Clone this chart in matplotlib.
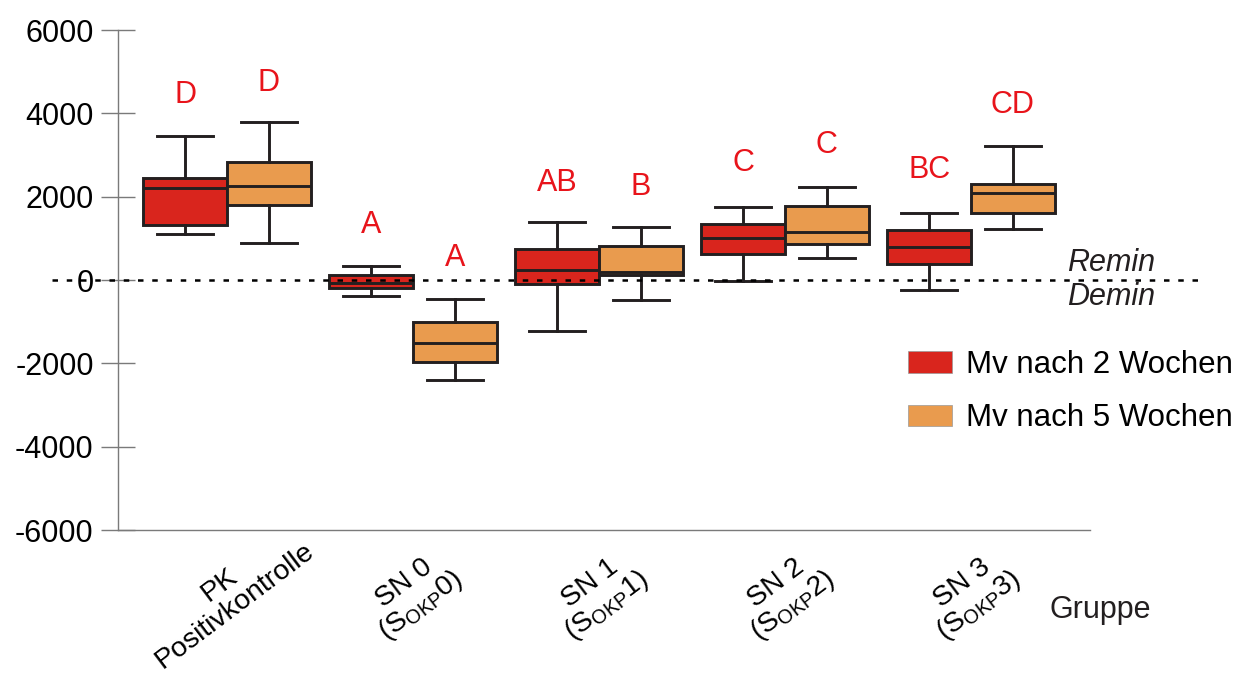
import matplotlib
matplotlib.use("Agg")
import matplotlib.pyplot as plt
from matplotlib.patches import Patch

plt.rcParams['font.family'] = ['Liberation Sans', 'DejaVu Sans']
plt.rcParams['mathtext.fontset'] = 'custom'
plt.rcParams['mathtext.rm'] = 'Liberation Sans'
plt.rcParams['mathtext.it'] = 'Liberation Sans:italic'
plt.rcParams['axes.unicode_minus'] = False

groups = ['PK\nPositivkontrolle', 'SN 0\n(S$_{\\mathrm{OKP}}$0)', 'SN 1\n(S$_{\\mathrm{OKP}}$1)',
          'SN 2\n(S$_{\\mathrm{OKP}}$2)', 'SN 3\n(S$_{\\mathrm{OKP}}$3)']
series = ['Mv nach 2 Wochen', 'Mv nach 5 Wochen']
colors = ['#d9251d', '#e99b4e']

# whislo, q1, median, q3, whishi
w2_low = [1100, -380, -1220, -20, -240]
w2_q1 = [1320, -190, -100, 620, 380]
w2_med = [2200, -60, 240, 1010, 790]
w2_q3 = [2450, 120, 740, 1340, 1200]
w2_high = [3460, 340, 1390, 1750, 1610]

w5_low = [890, -2400, -480, 530, 1220]
w5_q1 = [1800, -1970, 110, 860, 1610]
w5_med = [2260, -1510, 200, 1150, 2090]
w5_q3 = [2830, -1010, 820, 1780, 2300]
w5_high = [3790, -460, 1270, 2230, 3210]

letters2 = ['D', 'A', 'AB', 'C', 'BC']
letters5 = ['D', 'A', 'B', 'C', 'CD']
letter_y2 = [4440, 1320, 2330, 2810, 2640]
letter_y5 = [4730, 530, 2230, 3240, 4200]

fig = plt.figure(figsize=(12.42, 6.79), dpi=100)
ax = fig.add_axes([0.095, 0.2194, 0.7826, 0.7364])

edge = '#231f20'
grey = '#7a7a7a'
off = 0.225
for k, (lo, q1, med, q3, hi) in enumerate([(w2_low, w2_q1, w2_med, w2_q3, w2_high),
                                          (w5_low, w5_q1, w5_med, w5_q3, w5_high)]):
    stats = [dict(whislo=lo[i], q1=q1[i], med=med[i], q3=q3[i], whishi=hi[i], fliers=[])
             for i in range(len(groups))]
    pos = [i + (off if k else -off) for i in range(len(groups))]
    ax.bxp(stats, positions=pos, widths=0.45, capwidths=0.30, patch_artist=True,
           showfliers=False,
           boxprops=dict(facecolor=colors[k], edgecolor=edge, linewidth=2.1),
           medianprops=dict(color=edge, linewidth=2.1),
           whiskerprops=dict(color=edge, linewidth=2.1),
           capprops=dict(color=edge, linewidth=2.1))

for i in range(len(groups)):
    ax.text(i - off, letter_y2[i], letters2[i], color='#e8141b', fontsize=22,
            ha='center', va='center')
    ax.text(i + off, letter_y5[i], letters5[i], color='#e8141b', fontsize=22,
            ha='center', va='center')

ax.axhline(0, xmin=-0.068, xmax=1.112, color='black', linestyle=(0, (2.2, 3.5)),
           linewidth=1.8, clip_on=False, zorder=5)
ax.text(1.022, 40, 'Remin', transform=ax.get_yaxis_transform(), style='italic',
        fontsize=22, ha='center', va='bottom', color='#231f20')
ax.text(1.022, -40, 'Demin', transform=ax.get_yaxis_transform(), style='italic',
        fontsize=22, ha='center', va='top', color='#231f20')

ax.set_xlim(-0.586, 4.64)
ax.set_ylim(-6000, 6000)
ax.set_yticks([-6000, -4000, -2000, 0, 2000, 4000, 6000])
ax.set_xticks(range(len(groups)))
ax.set_xticklabels(groups, rotation=37, ha='center', va='center', fontsize=20.5,
                   linespacing=1.0)
ax.tick_params(axis='y', direction='inout', length=25, width=1, labelsize=22,
               pad=5, color=grey)
ax.tick_params(axis='x', length=0, pad=47)
for s in ['top', 'right']:
    ax.spines[s].set_visible(False)
for s in ['left', 'bottom']:
    ax.spines[s].set_color(grey)
    ax.spines[s].set_linewidth(1)

ax.text(0.958, -0.16, 'Gruppe', transform=ax.transAxes, fontsize=22,
        ha='left', va='center', color='#231f20')

handles = [Patch(facecolor=c, edgecolor='#999999', linewidth=0.5) for c in colors]
ax.legend(handles, series, loc='upper left', bbox_to_anchor=(0.8, 0.385),
          frameon=False, fontsize=22.5, handlelength=1.4, handleheight=0.7,
          handletextpad=0.45, labelspacing=0.75, borderaxespad=0)

fig.savefig('out.png', dpi=100)
